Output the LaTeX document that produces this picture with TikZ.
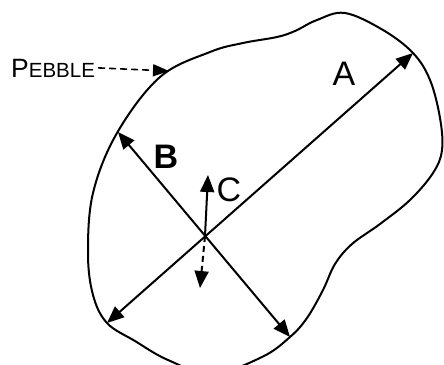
\documentclass[tikz,border=0pt]{standalone}
\usepackage{fontspec}
\setmainfont{Liberation Sans}
\usetikzlibrary{arrows.meta}
\tikzset{
  outline/.style={line width=2pt, line join=round},
  dimarrow/.style={line width=2pt, {Triangle[length=17pt,width=14pt]}-{Triangle[length=17pt,width=14pt]}},
  onearrow/.style={line width=2pt, -{Triangle[length=17pt,width=14pt]}},
  dasharrow/.style={line width=2pt, dash pattern=on 7pt off 4pt, -{Triangle[length=17pt,width=14pt]}},
  biglabel/.style={font=\fontsize{34}{34}\selectfont, inner sep=0pt},
}
\begin{document}
\begin{tikzpicture}[x=1pt,y=-1pt]
\useasboundingbox (0,0) rectangle (444,364);
\begin{scope}
\clip (0,0) rectangle (444,364);
\draw[outline] plot[smooth cycle, tension=0.6] coordinates {
 (345,13) (383,30) (413,53) (430,80) (440,118) (442,150) (433,173) (410,200)
 (380,224) (352,244) (335,264) (323,290) (307,318) (290,337) (262,357) (212,374)
 (168,360) (135,341) (107,323) (93,295) (88,253) (93,193) (117,133) (160,77)
 (210,52) (243,43) (277,37) (295,31) (317,20)};
\end{scope}
\coordinate (O) at (205,236);
\coordinate (A1) at (107,323);
\coordinate (A2) at (413,53);
\coordinate (B1) at (118,132);
\coordinate (B2) at (290,337);
\coordinate (C1) at (208,175);
\coordinate (C2) at (200,288);
\coordinate (P) at (169,71);
\draw[dimarrow] (A1) -- (A2);
\draw[dimarrow] (B1) -- (B2);
\draw[onearrow] (O) -- (C1);
\draw[dasharrow, dash pattern=on 6pt off 4pt] (O) -- (C2);
\node[biglabel] (la) at (344,74) {A};
\node[biglabel, font=\fontsize{34}{34}\selectfont\bfseries] (lb) at (166,157) {B};
\node[biglabel] (lc) at (229,190) {C};
\node[anchor=base west, inner sep=0pt] (peb) at (11,77) {{\fontsize{26.5}{26.5}\selectfont P}{\fontsize{20.5}{20.5}\selectfont EBBLE}};
\draw[line width=1.6pt, dash pattern=on 7pt off 4pt, -{Triangle[length=16pt,width=12pt]}] ([xshift=3pt]peb.east) -- (P);
\end{tikzpicture}
\end{document}
